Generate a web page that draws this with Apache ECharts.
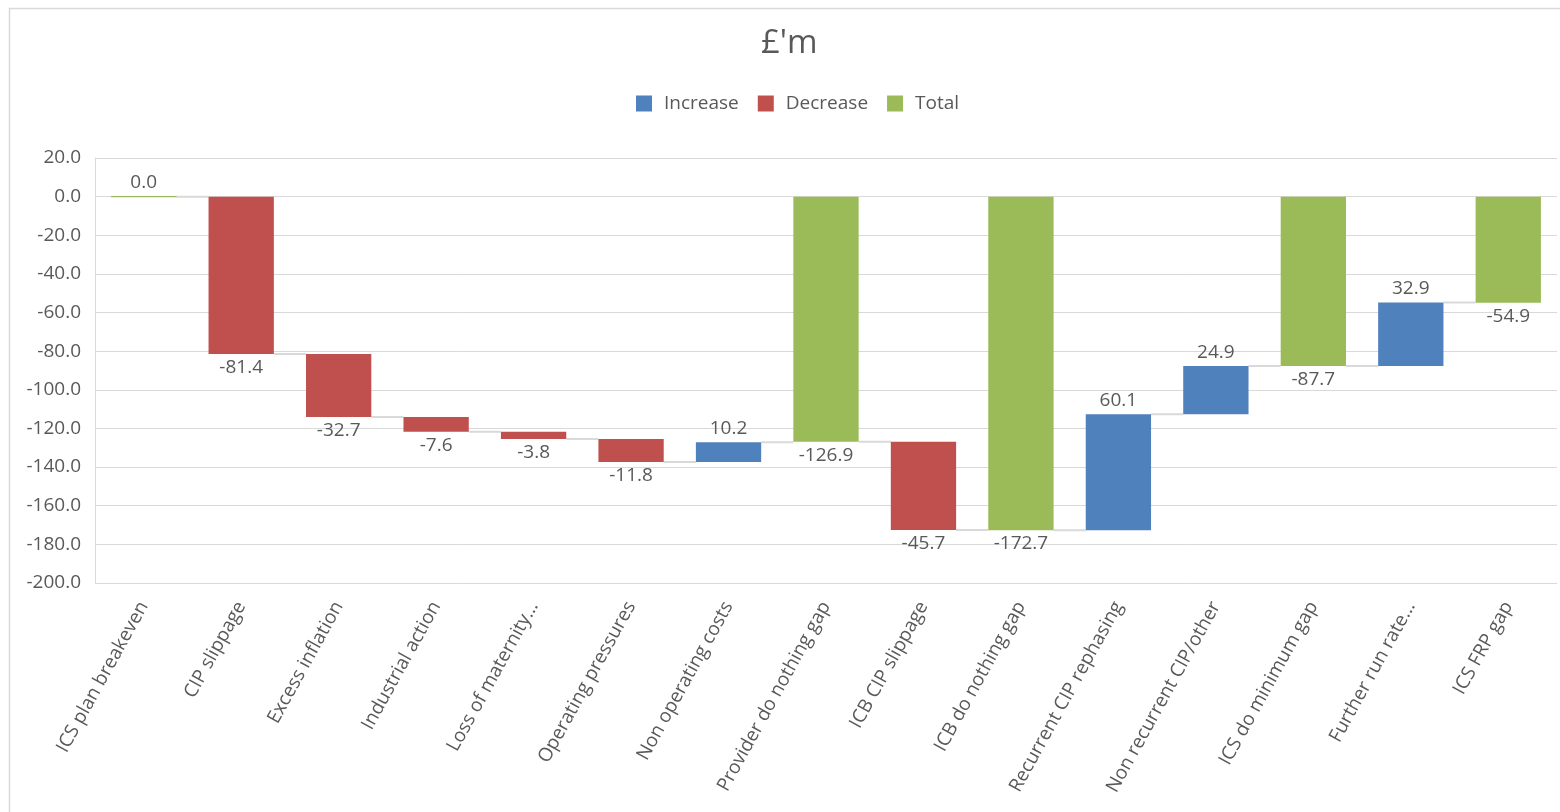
<!DOCTYPE html>
<html>
<head>
<meta charset="utf-8">
<script src="https://cdn.jsdelivr.net/npm/echarts@6/dist/echarts.min.js"></script>
<style>
html,body{margin:0;padding:0;background:#fff;}
#chart{width:1560px;height:812px;}
</style>
</head>
<body>
<div id="chart"></div>
<script>
const categories = ["ICS plan breakeven","CIP slippage","Excess inflation","Industrial action","Loss of maternity…","Operating pressures","Non operating costs","Provider do nothing gap","ICB CIP slippage","ICB do nothing gap","Recurrent CIP rephasing","Non recurrent CIP/other","ICS do minimum gap","Further run rate…","ICS FRP gap"];
// change per step (for steps) or total level (for totals)
const values = [0.0, -81.4, -32.7, -7.6, -3.8, -11.8, 10.2, -126.9, -45.7, -172.7, 60.1, 24.9, -87.7, 32.9, -54.9];
const kinds = ["total","step","step","step","step","step","step","total","step","total","step","step","total","step","total"];
const yTicks = {min: -200, max: 20, interval: 20};

const TXT = '#595959';
const FONT = 'Open Sans';
const COLORS = {increase:'#4f81bd', decrease:'#c0504d', total:'#9bbb59'};

// derive waterfall geometry from values
const base = [], inc = [], dec = [], tot = [], levels = [];
let level = 0;
values.forEach((v, i) => {
  if (kinds[i] === 'total') {
    level = v;
    base.push(0);
    tot.push({value: v, label: {position: v >= 0 ? 'top' : 'bottom'},
      itemStyle: v === 0 ? {borderColor: COLORS.total, borderWidth: 1} : undefined});
    inc.push('-'); dec.push('-');
  } else {
    const prev = level;
    level = prev + v;
    const top = Math.max(prev, level), bottom = Math.min(prev, level);
    base.push(top);
    if (v >= 0) {
      inc.push({value: bottom - top, label: {position: 'top'}});
      dec.push('-');
    } else {
      dec.push({value: bottom - top, label: {position: 'bottom'}});
      inc.push('-');
    }
    tot.push('-');
  }
  levels.push(level);
});
const connectors = levels.slice(0, -1).map((l, i) => [i, l]);

const labelFmt = p => values[p.dataIndex].toFixed(1);
const labelStyle = {show: true, formatter: labelFmt, color: TXT, fontSize: 19, fontFamily: FONT, distance: 4};

const chart = echarts.init(document.getElementById('chart'));
chart.setOption({
  animation: false,
  textStyle: {fontFamily: FONT},
  graphic: [{type: 'rect', left: 7, top: 6, shape: {width: 1600, height: 900}, style: {fill: 'none', stroke: '#d9d9d9', lineWidth: 1.5}, silent: true}],
  title: {text: "£'m", left: 756, top: 22, textStyle: {color: TXT, fontSize: 33, fontWeight: 'normal', fontFamily: FONT}},
  legend: {
    top: 89, left: 631, itemWidth: 16, itemHeight: 16, itemGap: 19, icon: 'rect',
    data: ['Increase', 'Decrease', 'Total'],
    textStyle: {color: TXT, fontSize: 19, fontFamily: FONT, padding: [0, 0, 0, 7]}
  },
  grid: {left: 95, right: 3, top: 158, bottom: 229},
  xAxis: {
    type: 'category', data: categories,
    axisLine: {show: false}, axisTick: {show: false},
    axisLabel: {interval: 0, rotate: 61, color: TXT, fontSize: 19, fontFamily: FONT, margin: 20}
  },
  yAxis: {
    type: 'value', min: yTicks.min, max: yTicks.max, interval: yTicks.interval,
    axisLine: {show: true, lineStyle: {color: '#d9d9d9'}},
    axisTick: {show: false},
    splitLine: {lineStyle: {color: '#d9d9d9', width: 1}},
    axisLabel: {formatter: v => v.toFixed(1), color: TXT, fontSize: 19, fontFamily: FONT, margin: 14}
  },
  series: [
    {name: 'base', type: 'bar', stack: 'w', data: base, itemStyle: {color: 'transparent'}, barCategoryGap: '33%', silent: true, legendHoverLink: false},
    {name: 'Increase', type: 'bar', stack: 'w', data: inc, itemStyle: {color: COLORS.increase}, label: labelStyle},
    {name: 'Decrease', type: 'bar', stack: 'w', data: dec, itemStyle: {color: COLORS.decrease}, label: labelStyle},
    {name: 'Total', type: 'bar', stack: 'w', data: tot, itemStyle: {color: COLORS.total}, label: labelStyle},
    {name: 'conn', type: 'custom', data: connectors, z: 1, silent: true,
      renderItem: (params, api) => {
        const p = api.coord([api.value(0), api.value(1)]);
        const w = api.size([1, 0])[0];
        const bw = w * 0.67;
        return {type: 'line', shape: {x1: p[0] + bw / 2, y1: p[1], x2: p[0] + w - bw / 2, y2: p[1]},
          style: {stroke: '#d9d9d9', lineWidth: 2}};
      }}
  ]
});
</script>
</body>
</html>
